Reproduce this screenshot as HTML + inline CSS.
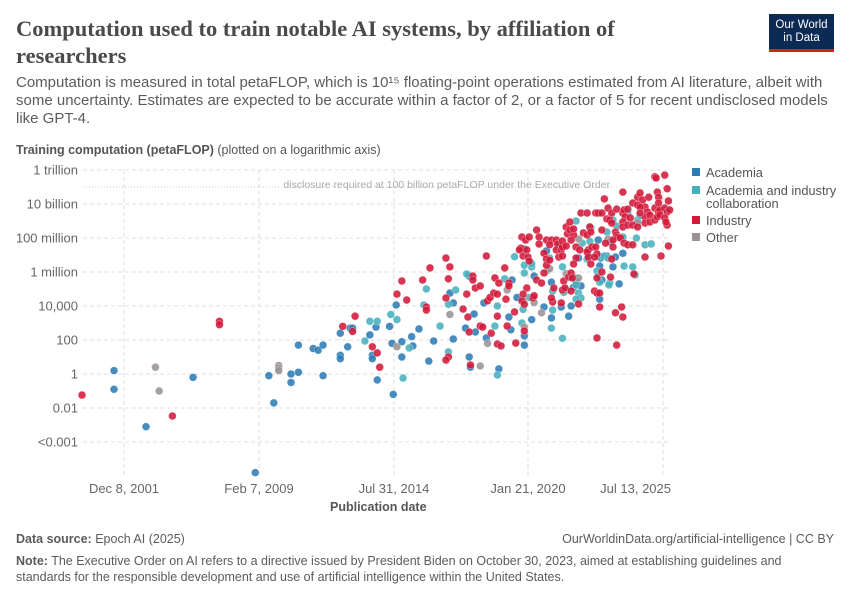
<!DOCTYPE html>
<html><head><meta charset="utf-8"><style>
body{margin:0;background:#fff;font-family:"Liberation Sans",sans-serif;}
#wrap{position:relative;width:850px;height:600px;overflow:hidden;}
.t{position:absolute;white-space:nowrap;}
</style></head><body><div id="wrap">
<div class="t" style="left:16px;top:15px;font-family:'Liberation Serif',serif;font-weight:bold;font-size:22.5px;line-height:27px;color:#4a4a4a;white-space:normal;width:700px;">Computation used to train notable AI systems, by affiliation of researchers</div>
<div style="position:absolute;left:769px;top:14px;width:65px;height:38px;background:#0b2a54;border-bottom:3px solid #ce261e;box-sizing:border-box;color:#fff;font-size:11.5px;line-height:13px;text-align:center;padding-top:5px;">Our World<br>in Data</div>
<div class="t" style="left:16px;top:74px;font-size:15px;line-height:18px;color:#5b5b5b;">Computation is measured in total petaFLOP, which is 10¹⁵ floating-point operations estimated from AI literature, albeit with<br>some uncertainty. Estimates are expected to be accurate within a factor of 2, or a factor of 5 for recent undisclosed models<br>like GPT-4.</div>
<div class="t" style="left:16px;top:143px;font-size:12.5px;color:#555;"><b>Training computation (petaFLOP)</b> (plotted on a logarithmic axis)</div>
<svg id="plot" width="850" height="600" style="position:absolute;left:0;top:0;"></svg>
<div class="t" style="left:330px;top:500px;font-size:12.5px;font-weight:bold;color:#555;">Publication date</div>
<div class="t" style="left:16px;top:532px;font-size:12.5px;color:#5b5b5b;"><b>Data source:</b> Epoch AI (2025)</div>
<div class="t" style="right:16px;top:532px;font-size:12.5px;color:#5b5b5b;">OurWorldinData.org/artificial-intelligence | CC BY</div>
<div class="t" style="left:16px;top:553px;width:800px;white-space:normal;font-size:12.5px;line-height:16px;color:#5b5b5b;"><b>Note:</b> The Executive Order on AI refers to a directive issued by President Biden on October 30, 2023, aimed at establishing guidelines and standards for the responsible development and use of artificial intelligence within the United States.</div>
</div>
<script>
const yTickVals=[12,10,8,6,4,2,0,-2,-4];
const yTickLabels=["1 trillion","10 billion","100 million","1 million","10,000","100","1","0.01","<0.001"];
const xTickYears=[2001.93,2009.10,2014.58,2020.05,2025.53];
const xTickLabels=["Dec 8, 2001","Feb 7, 2009","Jul 31, 2014","Jan 21, 2020","Jul 13, 2025"];
const thresholdLog=11;
const seriesNames=["Academia","Academia and industry collaboration","Industry","Other"];
const academia=[[2001.4,0.2],[2001.4,-0.9],[2003.1,-3.1],[2005.6,-0.2],[2008.9,-5.8],[2009.5,-0.1],[2009.7,-1.7],[2010.4,-0.5],[2010.4,0],[2010.7,0.1],[2010.7,1.7],[2011.3,1.5],[2011.5,1.4],[2011.7,1.7],[2011.7,-0.1],[2012.4,2.4],[2012.8,2.7],[2012.9,2.7],[2012.4,1.1],[2012.4,0.9],[2012.7,1.6],[2013.6,2.3],[2013.9,-0.35],[2013.85,2.76],[2013.7,1.1],[2013.7,0.9],[2014.55,-1.2],[2014.4,2.8],[2014.5,1.8],[2014.67,4.06],[2014.9,1.9],[2014.9,1.0],[2015.3,2.2],[2015.35,1.65],[2015.6,2.65],[2016.0,0.76],[2016.2,1.94],[2016.86,4.76],[2017.0,4.18],[2017.0,2.06],[2017.5,2.7],[2017.65,5.76],[2017.65,1.0],[2017.7,0.4],[2017.85,3.53],[2017.9,2.47],[2018.25,4.18],[2018.35,2.12],[2018.86,0.3],[2019.4,5.53],[2019.27,3.35],[2019.35,2.6],[2019.6,4.5],[2019.9,7.35],[2019.9,2.24],[2019.9,1.7],[2020.2,3.2],[2020.3,5.76],[2020.8,7.24],[2021.0,5.4],[2021.0,3.3],[2020.7,3.94],[2021.3,7.47],[2021.6,4.94],[2021.4,3.94],[2021.7,3.4],[2022.1,6.82],[2022.0,5.47],[2021.9,5.1],[2022.2,5.18],[2021.8,4.0],[2022.9,7.88],[2022.5,6.94],[2023.0,6.82],[2023.05,6.88],[2022.96,6.35],[2023.05,5.53],[2022.96,4.4],[2023.4,7.76],[2023.25,6.94],[2023.6,6.88],[2023.5,6.3],[2023.75,5.3],[2023.9,7.1]];
const collaboration=[[2013.4,1.94],[2013.6,3.1],[2013.9,3.1],[2014.45,3.5],[2014.7,3.2],[2014.95,-0.24],[2015.2,1.53],[2015.8,4.06],[2015.9,5.0],[2016.46,2.82],[2016.8,4.1],[2017.1,4.94],[2016.8,1.3],[2017.55,5.88],[2018.7,2.82],[2018.8,4.0],[2018.8,-0.06],[2019.1,5.6],[2019.9,5.94],[2019.9,6.4],[2019.5,6.9],[2020.1,4.5],[2019.8,3.0],[2019.85,3.8],[2020.2,6.3],[2020.2,6.5],[2020.93,6.82],[2021.05,4.88],[2021.05,3.76],[2021.0,2.7],[2021.45,6.3],[2021.5,4.8],[2021.45,2.1],[2022.0,9.0],[2021.9,5.7],[2022.0,5.24],[2022.1,4.76],[2022.2,4.47],[2022.0,4.4],[2022.25,7.7],[2022.6,8.6],[2022.56,7.8],[2022.45,6.76],[2022.85,6.06],[2022.9,5.76],[2022.96,5.4],[2022.9,6.9],[2023.25,8.35],[2023.5,9.06],[2023.65,8.7],[2023.15,6.94],[2023.3,6.82],[2023.37,5.35],[2023.33,5.24],[2024.1,9.47],[2023.9,8.0],[2023.9,8.06],[2024.45,8.0],[2023.95,6.35],[2024.3,6.3],[2024.4,5.82],[2024.8,7.6],[2025.05,7.65],[2024.5,9.06],[2024.6,9.3],[2025.5,9.65]];
const industry=[[1999.7,-1.24],[2004.5,-2.47],[2007.0,3.1],[2007.0,2.9],[2012.5,2.8],[2012.9,2.5],[2013.0,3.4],[2013.7,1.6],[2013.9,1.24],[2014.0,0.4],[2014.7,4.7],[2014.9,5.47],[2015.1,4.35],[2015.75,5.53],[2015.9,3.94],[2015.9,3.76],[2016.05,6.24],[2016.7,6.82],[2016.8,5.6],[2016.86,6.3],[2016.7,4.47],[2016.8,1.0],[2016.7,0.82],[2017.4,3.82],[2017.55,4.7],[2017.6,3.35],[2017.65,2.47],[2017.7,0.53],[2017.8,5.76],[2017.8,5.53],[2017.9,5.06],[2018.1,5.18],[2018.1,2.82],[2018.2,2.76],[2018.35,6.94],[2018.4,4.3],[2018.55,2.4],[2018.5,4.5],[2018.7,5.65],[2018.65,4.76],[2018.8,4.7],[2018.86,5.35],[2018.8,3.4],[2018.8,1.76],[2018.95,1.65],[2019.1,6.24],[2019.27,5.35],[2019.27,5.18],[2019.15,4.4],[2019.2,2.82],[2019.5,3.65],[2019.55,1.82],[2019.8,4.3],[2019.8,8.06],[2019.95,7.88],[2020.1,8.06],[2019.75,7.4],[2019.7,7.3],[2019.85,6.94],[2020.0,7.3],[2020.05,6.88],[2020.1,6.65],[2020.0,5.06],[2020.25,4.47],[2019.9,4.1],[2019.9,2.53],[2019.85,4.7],[2020.4,8.47],[2020.5,8.06],[2020.5,7.65],[2020.3,4.6],[2020.4,5.53],[2020.6,5.35],[2020.7,5.94],[2020.7,7.1],[2020.8,7.88],[2021.0,7.88],[2020.93,7.6],[2020.8,6.76],[2020.8,6.4],[2020.93,6.7],[2021.05,4.24],[2021.0,4.47],[2021.1,5.06],[2021.2,7.88],[2021.25,7.65],[2021.2,7.3],[2021.4,7.3],[2021.45,7.47],[2021.3,6.88],[2021.45,7.82],[2021.45,6.94],[2021.5,5.47],[2021.45,4.94],[2021.55,5.06],[2021.4,4.18],[2021.7,5.7],[2021.6,7.53],[2021.65,8.24],[2021.6,8.65],[2021.75,8.94],[2021.75,8.47],[2021.9,8.18],[2021.9,8.53],[2022.0,7.47],[2022.15,7.3],[2022.0,6.82],[2021.9,6.47],[2021.8,5.94],[2021.85,5.65],[2021.8,4.88],[2022.1,4.12],[2021.8,7.88],[2022.3,8.3],[2022.45,8.18],[2022.2,9.47],[2022.45,9.47],[2022.56,8.65],[2022.6,8.35],[2022.8,9.47],[2022.9,9.47],[2022.5,7.3],[2022.45,7.18],[2022.5,6.88],[2022.6,6.47],[2022.65,7.47],[2022.8,7.47],[2022.85,7.06],[2022.75,6.88],[2023.05,6.0],[2022.85,5.65],[2022.75,4.88],[2022.85,4.76],[2022.96,4.76],[2022.96,3.94],[2022.85,2.12],[2023.05,8.47],[2023.05,9.47],[2023.15,10.3],[2023.3,9.76],[2023.25,9.12],[2023.37,9.06],[2023.45,8.88],[2023.45,9.47],[2023.6,8.35],[2023.65,8.18],[2023.7,8.06],[2023.5,7.88],[2023.5,7.47],[2023.2,7.7],[2023.45,6.76],[2023.4,5.7],[2023.6,3.6],[2023.85,3.94],[2023.9,3.35],[2023.65,1.7],[2023.9,10.7],[2023.65,9.7],[2023.9,9.47],[2023.95,9.65],[2024.1,9.7],[2024.0,9.24],[2024.2,9.18],[2023.9,8.94],[2023.9,8.65],[2023.8,8.0],[2023.95,7.7],[2024.1,7.6],[2024.3,7.6],[2024.35,5.88],[2024.8,6.88],[2025.45,6.94],[2025.75,7.53],[2024.5,10.4],[2024.6,10.65],[2024.7,10.24],[2024.8,9.82],[2024.95,10.4],[2025.2,11.6],[2025.25,11.53],[2025.6,11.7],[2025.3,10.7],[2025.35,10.4],[2025.7,10.9],[2024.3,10.06],[2024.5,9.94],[2024.6,9.82],[2024.9,9.53],[2024.8,9.24],[2025.0,9.35],[2025.2,9.76],[2025.35,9.53],[2025.4,9.65],[2025.6,9.76],[2025.7,9.53],[2025.8,9.65],[2025.75,10.18],[2025.35,10.06],[2024.6,9.47],[2024.8,8.88],[2025.0,8.94],[2025.2,9.06],[2025.3,9.24],[2025.4,9.35],[2025.6,9.18],[2025.7,8.76],[2025.65,8.94],[2024.1,8.76],[2024.3,8.76],[2024.5,8.65]];
const other=[[2003.6,0.4],[2003.8,-1.0],[2009.9,0.5],[2009.9,0.35],[2009.9,0.2],[2014.7,1.6],[2016.86,3.5],[2018.1,0.47],[2018.4,1.8],[2019.2,4.94],[2019.85,4.35],[2019.9,2.76],[2020.3,4.2],[2020.85,6.1],[2020.93,6.2],[2020.6,3.6],[2021.6,5.9],[2022.1,5.65],[2022.1,7.94],[2023.3,7.94],[2024.5,8.9]];

const NS="http://www.w3.org/2000/svg";
const svg=document.getElementById('plot');
const tickPx=[124,259,394,528,663];
function xScale(yr){
  let i=0; if(yr>xTickYears[1]) i=1; if(yr>xTickYears[2]) i=2; if(yr>xTickYears[3]) i=3;
  const a=xTickYears[i],b=xTickYears[i+1];
  return tickPx[i]+(yr-a)/(b-a)*(tickPx[i+1]-tickPx[i]);
}
function yScale(l){return 374-17*l;}
function el(tag,attrs,parent){const e=document.createElementNS(NS,tag);for(const k in attrs)e.setAttribute(k,attrs[k]);(parent||svg).appendChild(e);return e;}
yTickVals.forEach((v,i)=>{
  const g=el('line',{x1:83,x2:670,y1:yScale(v),y2:yScale(v),stroke:'#ddd','stroke-dasharray':'4,3'});
  
  
  const t=el('text',{x:78,y:yScale(v)+4.5,'text-anchor':'end','font-size':13,fill:'#666','font-family':'Liberation Sans, sans-serif'});
  t.textContent=yTickLabels[i];
  
  
});
xTickYears.forEach((yr,i)=>{
  const x=xScale(yr);
  const g=el('line',{x1:x,x2:x,y1:170,y2:478,stroke:'#ddd','stroke-dasharray':'4,3'});
  
  
  const last=i===xTickYears.length-1;
  const t=el('text',{x:last?671:x,y:493,'text-anchor':last?'end':'middle','font-size':13,fill:'#666','font-family':'Liberation Sans, sans-serif'});
  t.textContent=xTickLabels[i];
  
  
});
const th=el('line',{x1:83,x2:612,y1:yScale(thresholdLog),y2:yScale(thresholdLog),stroke:'#ccc','stroke-dasharray':'1,2'});


const tt=el('text',{x:610,y:yScale(thresholdLog)+1,'text-anchor':'end','font-size':10.5,fill:'#aaa','font-family':'Liberation Sans, sans-serif'});
tt.textContent='disclosure required at 100 billion petaFLOP under the Executive Order';


const colors=['#2e7cb5','#48b0bd','#d3193a','#9a9394'];
const allSeries=[academia,collaboration,other,industry];
const colorIdx=[0,1,3,2];
allSeries.forEach((s,si)=>{
  s.forEach(p=>{
    const c=el('circle',{cx:xScale(p[0]),cy:yScale(p[1]),r:3.9,fill:colors[colorIdx[si]],'fill-opacity':0.88,stroke:'#fff','stroke-width':0.3});
    
    
  });
});
const legY=[[177],[195,208],[225],[242]];
const legText=[["Academia"],["Academia and industry","collaboration"],["Industry"],["Other"]];
legText.forEach((lines,i)=>{
  const r=el('rect',{x:692,y:legY[i][0]-9,width:8,height:8,fill:colors[i]});
  
  
  lines.forEach((ln,j)=>{
    const t=el('text',{x:706,y:legY[i][j],'font-size':12.8,fill:'#555','font-family':'Liberation Sans, sans-serif'});
    t.textContent=ln;
    
    
  });
});
</script></body></html>
